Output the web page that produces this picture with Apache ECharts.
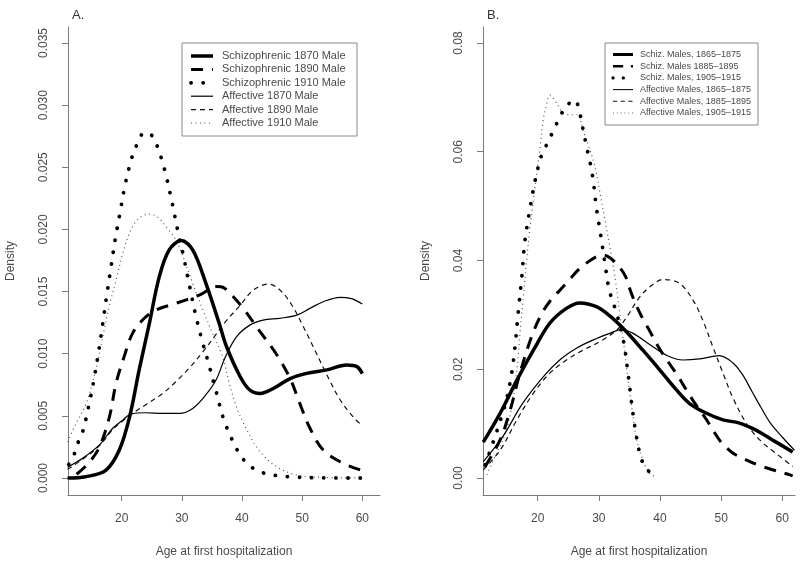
<!DOCTYPE html>
<html>
<head>
<meta charset="utf-8">
<script src="https://cdn.jsdelivr.net/npm/echarts@6/dist/echarts.min.js"></script>
<style>html,body{margin:0;padding:0;background:#fff}#c{width:800px;height:565px}</style>
</head>
<body>
<div id="c"></div>
<script>
// ---------- Panel A data ----------
const labelsA = ['Schizophrenic 1870 Male','Schizophrenic 1890 Male','Schizophrenic 1910 Male','Affective 1870 Male','Affective 1890 Male','Affective 1910 Male'];
const xTicksA = [20,30,40,50,60];
const yTicksA = [0,0.005,0.010,0.015,0.020,0.025,0.030,0.035];

const schizA1870 = [[11,0.0000],[14,0.0001],[17.4,0.00064],[19.6,0.00225],[21.3,0.0049],[22.9,0.0087],[24.6,0.01245],[26.25,0.0162],[27.9,0.01835],[29.9,0.0191],[31.8,0.01835],[34,0.01566],[36.2,0.01245],[37.4,0.0106],[39.7,0.00815],[41.3,0.00708],[43,0.0068],[45.2,0.0072],[48,0.0080],[50.75,0.00842],[54.1,0.0087],[57.4,0.0091],[59.1,0.00896],[60,0.0084]];
const schizA1890 = [[12.5,0.0003],[14.5,0.0012],[16.3,0.0025],[17.95,0.0049],[19.05,0.0076],[20.4,0.00976],[21.8,0.01164],[23.75,0.01285],[25.7,0.01352],[29,0.01405],[32.9,0.01472],[35.8,0.0154],[37,0.0153],[38.55,0.01459],[40.2,0.01365],[43,0.01177],[45.8,0.0099],[48,0.0080],[49.6,0.006],[51.3,0.004],[53.5,0.00225],[56.8,0.00118],[60,0.0006]];
const schizA1910 = [[11.2,0.0011],[11.85,0.00158],[12.7,0.0028],[13.5,0.0037],[14.6,0.006],[15.45,0.0081],[16.2,0.0103],[16.85,0.01245],[17.5,0.01467],[18.2,0.0169],[18.9,0.01915],[19.7,0.0213],[20.5,0.02344],[21.6,0.02564],[22.4,0.0267],[23.4,0.02768],[24.3,0.0278],[25.15,0.02746],[26.1,0.02645],[26.8,0.02537],[27.4,0.0243],[28.4,0.0221],[29.3,0.01995],[30.25,0.0179],[31.25,0.01553],[32.2,0.0133],[33.3,0.01116],[34.5,0.0091],[35.7,0.00694],[36.9,0.0048],[37.7,0.0038],[38.7,0.00274],[39.8,0.00177],[41.3,0.00097],[43.4,0.00043],[45.65,0.0002],[48,0.0001],[52,0.00002],[60,0.0]];
const affA1870 = [[11,0.00086],[13.5,0.00158],[16.3,0.00266],[18.5,0.004],[20.2,0.00467],[21.5,0.00515],[24,0.00525],[26.8,0.0052],[29.6,0.0052],[31.8,0.0056],[34,0.0067],[35.7,0.0079],[37.2,0.0097],[39.1,0.01137],[41.3,0.0123],[43.5,0.0127],[46.3,0.01285],[49.1,0.0131],[51.3,0.01365],[53.5,0.01418],[56.3,0.01454],[58.2,0.01443],[60,0.0140]];
const affA1890 = [[11,0.0007],[13.5,0.0015],[16.3,0.0026],[18.5,0.0039],[20.2,0.0046],[21.5,0.0051],[24,0.0059],[26.8,0.0068],[29,0.00775],[31.2,0.00883],[33.5,0.01016],[35.4,0.01137],[37.3,0.0126],[39.7,0.0139],[41.9,0.01513],[44.4,0.0156],[46.3,0.01513],[48.3,0.0139],[50.2,0.01217],[52.1,0.0103],[54.1,0.0083],[56.3,0.0063],[58.5,0.0049],[60,0.0042]];
const affA1910 = [[11,0.0029],[12.4,0.0044],[14.1,0.006],[15.7,0.0087],[16.85,0.01137],[17.9,0.01378],[19.05,0.0159],[20.2,0.0181],[21.5,0.01995],[22.9,0.0209],[24.6,0.02124],[26,0.02098],[27.4,0.0202],[29,0.01915],[30.4,0.01754],[31.8,0.01566],[33.5,0.01352],[35.1,0.01164],[36.8,0.0097],[38,0.0074],[39.1,0.0057],[40.8,0.00386],[43,0.0021],[45.8,0.0009],[49.1,0.00024],[53,0.00006],[60,0.0]];

// ---------- Panel B data ----------
const labelsB = ['Schiz. Males, 1865–1875','Schiz. Males 1885–1895','Schiz. Males, 1905–1915','Affective Males, 1865–1875','Affective Males, 1885–1895','Affective Males, 1905–1915'];
const xTicksB = [20,30,40,50,60];
const yTicksB = [0,0.02,0.04,0.06,0.08];

const schizB1 = [[11.1,0.0066],[13.85,0.0119],[16.6,0.018],[19.3,0.0235],[22,0.0285],[24.7,0.0312],[26.9,0.0322],[29.6,0.0315],[31.8,0.0298],[34.5,0.0269],[37.2,0.0235],[39.95,0.0199],[42.7,0.0162],[44.85,0.0137],[47.6,0.0119],[50.3,0.0107],[53,0.0101],[55.7,0.0088],[58.4,0.0070],[61.7,0.0048]];
const schizB2 = [[11.4,0.0021],[13.85,0.007],[15.5,0.0125],[17.1,0.0193],[19,0.026],[20.65,0.0302],[22,0.0325],[23.6,0.0345],[25,0.0362],[26.4,0.038],[27.7,0.0393],[29.6,0.0407],[30.7,0.041],[31.8,0.0405],[33.2,0.039],[34.4,0.037],[35.05,0.0348],[35.9,0.0323],[37,0.0297],[38.1,0.0275],[39.7,0.0242],[41.5,0.0211],[42.8,0.019],[44.3,0.0162],[45.5,0.0141],[46.8,0.012],[47.8,0.0104],[48.9,0.0084],[50,0.0066],[51.9,0.0046],[53.8,0.0035],[56,0.0024],[57.9,0.0017],[60.3,0.0009],[61.7,0.0004]];
const schizB3 = [[11.4,0.0024],[12.75,0.0067],[14.1,0.0113],[14.9,0.0144],[15.75,0.0193],[16.3,0.0242],[16.85,0.0309],[17.4,0.037],[17.9,0.0435],[18.7,0.0493],[19.6,0.0548],[20.65,0.0594],[21.7,0.0618],[22.6,0.064],[23.6,0.0663],[24.7,0.0686],[25.4,0.069],[26.1,0.0695],[26.9,0.067],[27.35,0.0645],[27.8,0.062],[28.25,0.0596],[28.7,0.0573],[29.1,0.0545],[29.6,0.0497],[30.3,0.0447],[31,0.0395],[31.7,0.0346],[32.9,0.0303],[34,0.0254],[34.8,0.019],[35.3,0.0143],[35.9,0.0094],[36.7,0.0045],[37.5,0.0021],[38.6,0.0008],[39.4,0.0002]];
const affB1 = [[11.1,0.003],[14.4,0.0078],[17.4,0.0135],[20.9,0.0186],[23.6,0.0217],[26.4,0.0239],[29.1,0.0254],[31.8,0.0266],[33.7,0.0273],[35.6,0.0266],[38.9,0.0241],[41,0.0226],[43.75,0.0217],[46.5,0.0219],[49.7,0.0225],[51.9,0.0212],[53.5,0.019],[55,0.016],[56.5,0.013],[58,0.0102],[60.1,0.0074],[62,0.0051]];
const affB2 = [[11.1,0.0015],[13.85,0.0051],[16.6,0.0107],[19.3,0.0156],[22,0.0193],[24.7,0.0217],[27.4,0.0235],[30.2,0.0251],[32.9,0.0272],[34.5,0.0295],[36.7,0.0333],[38.5,0.0353],[40.5,0.0365],[43.2,0.0358],[45.4,0.0327],[47,0.029],[48.65,0.0241],[50.3,0.0193],[51.9,0.0148],[54.1,0.0101],[56.3,0.007],[59,0.0045],[61.7,0.0021]];
const affB3 = [[11.7,0.0006],[13,0.0039],[14.7,0.0082],[15.75,0.0131],[16.6,0.0199],[17.1,0.0266],[17.65,0.0333],[18.2,0.0401],[18.75,0.0462],[19.3,0.0511],[19.85,0.056],[20.4,0.0609],[20.9,0.0658],[21.5,0.0689],[22,0.0704],[23.1,0.0689],[24.2,0.0671],[25.5,0.0668],[26.6,0.0668],[27.4,0.064],[28.5,0.0605],[29.35,0.0573],[30.2,0.0524],[31,0.0474],[31.8,0.0425],[32.6,0.0372],[33.4,0.0305],[34,0.0254],[34.5,0.0205],[35.05,0.0156],[35.6,0.0113],[36.15,0.0072],[37.2,0.0033],[38.3,0.0009],[39.4,0.0002]];

// ---------- styles ----------
const FONT = 'Liberation Sans, Arial, sans-serif';
const TXT = '#4a4a4a';
const AX = '#7a7a7a';
const lineStyles = [
  {width:3.5, type:'solid', color:'#000', cap:'butt'},
  {width:3, type:[12,9], color:'#000', cap:'butt'},
  {width:3.8, type:[0.1,12], color:'#000', cap:'round'},
  {width:1.2, type:'solid', color:'#000', cap:'butt'},
  {width:1.2, type:[5,4], color:'#111', cap:'butt'},
  {width:1.2, type:[1,3.5], color:'#555', cap:'butt'}
];

const seriesA = [schizA1870, schizA1890, schizA1910, affA1870, affA1890, affA1910];
const seriesB = [schizB1, schizB2, schizB3, affB1, affB2, affB3];

function mkSeries(list, labels, idx){
  return list.map((d,i)=>({
    type:'line', name:labels[i], data:d, xAxisIndex:idx, yAxisIndex:idx,
    showSymbol:false, symbol:'none', smooth:0.35, clip:true, silent:true, animation:false,
    lineStyle:Object.assign({}, lineStyles[i]), z: 10 - i
  }));
}

function xAxis(idx, min, max, ticks){
  return {
    type:'value', gridIndex:idx, min:min, max:max,
    name:'Age at first hospitalization', nameLocation:'middle', nameGap:51,
    nameTextStyle:{fontFamily:FONT, fontSize:12, color:TXT},
    axisLine:{show:true, onZero:false, lineStyle:{color:AX, width:1}},
    axisTick:{show:true, length:6, customValues:ticks, lineStyle:{color:AX}},
    axisLabel:{customValues:ticks, margin:18, fontFamily:FONT, fontSize:12, color:TXT, formatter:v=>String(v)},
    splitLine:{show:false}
  };
}
function yAxis(idx, min, max, ticks, dec){
  return {
    type:'value', gridIndex:idx, min:min, max:max,
    name:'Density', nameLocation:'middle', nameGap:51, nameRotate:90,
    nameTextStyle:{fontFamily:FONT, fontSize:12, color:TXT},
    axisLine:{show:true, onZero:false, lineStyle:{color:AX, width:1}},
    axisTick:{show:true, length:6, customValues:ticks, lineStyle:{color:AX}},
    axisLabel:{customValues:ticks, rotate:90, margin:18, fontFamily:FONT, fontSize:12, color:TXT, formatter:v=>Number(v).toFixed(dec)},
    splitLine:{show:false}
  };
}

// legend graphics
function legendGraphics(labels, box, rowY0, rowDy, lx1, lx2, tx, fs, scale){
  const els = [{type:'rect', shape:{x:box[0], y:box[1], width:box[2], height:box[3]}, style:{fill:'#fff', stroke:'#8a8a8a', lineWidth:1}, z:100}];
  labels.forEach((lab,i)=>{
    const y = rowY0 + i*rowDy;
    const s = lineStyles[i];
    const dash = Array.isArray(s.type) ? s.type.map(v=>v*scale) : null;
    els.push({type:'line', shape:{x1:lx1, y1:y, x2:lx2, y2:y}, style:{stroke:s.color, lineWidth:s.width*scale, lineDash:dash, lineCap:s.cap}, z:101});
    els.push({type:'text', x:tx, y:y, style:{text:lab, fill:TXT, font: fs+'px '+FONT, textVerticalAlign:'middle', textAlign:'left'}, z:101});
  });
  return els;
}

const chart = echarts.init(document.getElementById('c'), null, {renderer:'canvas'});
chart.setOption({
  animation:false,
  backgroundColor:'#fff',
  title:[
    {text:'A.', left:67, top:4, textStyle:{fontFamily:FONT, fontSize:13, fontWeight:'normal', color:'#333'}},
    {text:'B.', left:482, top:4, textStyle:{fontFamily:FONT, fontSize:13, fontWeight:'normal', color:'#333'}}
  ],
  grid:[
    {left:68, top:27, width:312, height:468, containLabel:false},
    {left:483, top:27, width:312, height:468, containLabel:false}
  ],
  xAxis:[ xAxis(0, 11.07, 62.94, xTicksA), xAxis(1, 11.055, 62.08, xTicksB) ],
  yAxis:[ yAxis(0, -0.001368, 0.036287, yTicksA, 3), yAxis(1, -0.003126, 0.08294, yTicksB, 2) ],
  series: mkSeries(seriesA, labelsA, 0).concat(mkSeries(seriesB, labelsB, 1)),
  graphic: legendGraphics(labelsA, [182,43,175,93], 56, 13.4, 191, 213, 222, 11, 1)
    .concat(legendGraphics(labelsB, [605,43,153,82], 54.5, 11.7, 613, 633, 640, 9, 0.85))
});
</script>
</body>
</html>
